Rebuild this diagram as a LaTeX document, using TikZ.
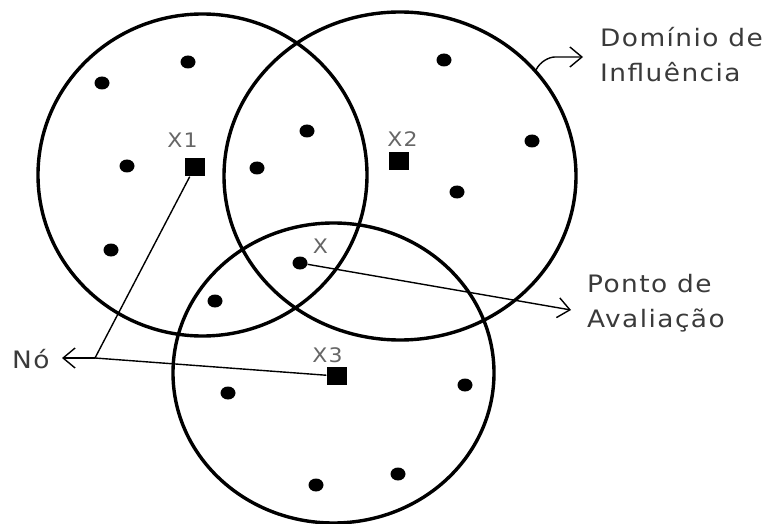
\documentclass[tikz,border=0pt]{standalone}
\usepackage{fontspec}
\newfontfamily\rotulofont[FakeStretch=1.1,LetterSpace=6]{DejaVu Sans}
\usetikzlibrary{arrows.meta,shapes.geometric,calc}
\definecolor{texto}{HTML}{3A3A3A}
\definecolor{rotx}{HTML}{666666}

\begin{document}
\begin{tikzpicture}[x=1pt,y=-1pt,
    dominio/.style={draw, ellipse, line width=3.4pt, inner sep=0pt},
    ponto/.style={fill, ellipse, minimum width=15pt, minimum height=13pt, inner sep=0pt},
    noh/.style={fill, rectangle, minimum width=20pt, minimum height=18pt, inner sep=0pt},
    rotulo/.style={text=texto, font=\rotulofont\fontsize{24}{35}\selectfont,
        inner sep=0pt, anchor=base west, align=left},
    nome/.style={text=rotx, font=\rotulofont\fontsize{20}{24}\selectfont,
        inner sep=0pt, anchor=base},
    fio/.style={line width=1.4pt},
    seta/.style={fio, -{Straight Barb[length=12pt,width=20pt]}}]
    \useasboundingbox (0,0) rectangle (766,524);

    % dominios de influencia
    \node[dominio, minimum width=329pt, minimum height=322pt] (d1) at (202.5,175) {};
    \node[dominio, minimum width=352pt, minimum height=328pt] (d2) at (400,176) {};
    \node[dominio, minimum width=321pt, minimum height=300pt] (d3) at (333.5,373) {};

    % pontos
    \foreach \p [count=\i] in {(102,83),(188,62),(127,166),(111,250),(257,168),
        (307,131),(444,60),(532,141),(457,192),(215,301),(228,393),(316,485),
        (398,474),(465,385)}
        \node[ponto] (p\i) at \p {};
    \node[ponto] (px) at (300,263) {};

    % nos
    \node[noh] (x1) at (194.5,167.5) {};
    \node[noh] (x2) at (399,161.5) {};
    \node[noh] (x3) at (336.5,376) {};
    \node[nome] (lx1) at (182.5,148) {X1};
    \node[nome] (lx2) at (402.5,147) {X2};
    \node[nome] (lx) at (320.5,253) {X};
    \node[nome] (lx3) at (327.5,362) {X3};

    % rotulos (base = ultima linha)
    \node[rotulo] (dom) at (600,82) {Domínio de\\Influência};
    \node[rotulo] (aval) at (587,327) {Ponto de\\Avaliação};
    \node[rotulo] (no) at (12,368) {Nó};

    \coordinate (j) at (95,358);
    \coordinate (noTip) at (62,358);
    \coordinate (domTip) at (583,57);
    \coordinate (avalTip) at (571,310);

    \draw[fio] (x1) -- (j);
    \draw[fio] (x3) -- (j);
    \draw[seta] (j) -- (noTip);
    \draw[seta] (px) -- (avalTip);
    \draw[seta] (d2.38) .. controls +(4,-8) and +(-6,0) .. ($(domTip)+(-28,0)$) -- (domTip);
\end{tikzpicture}
\end{document}
